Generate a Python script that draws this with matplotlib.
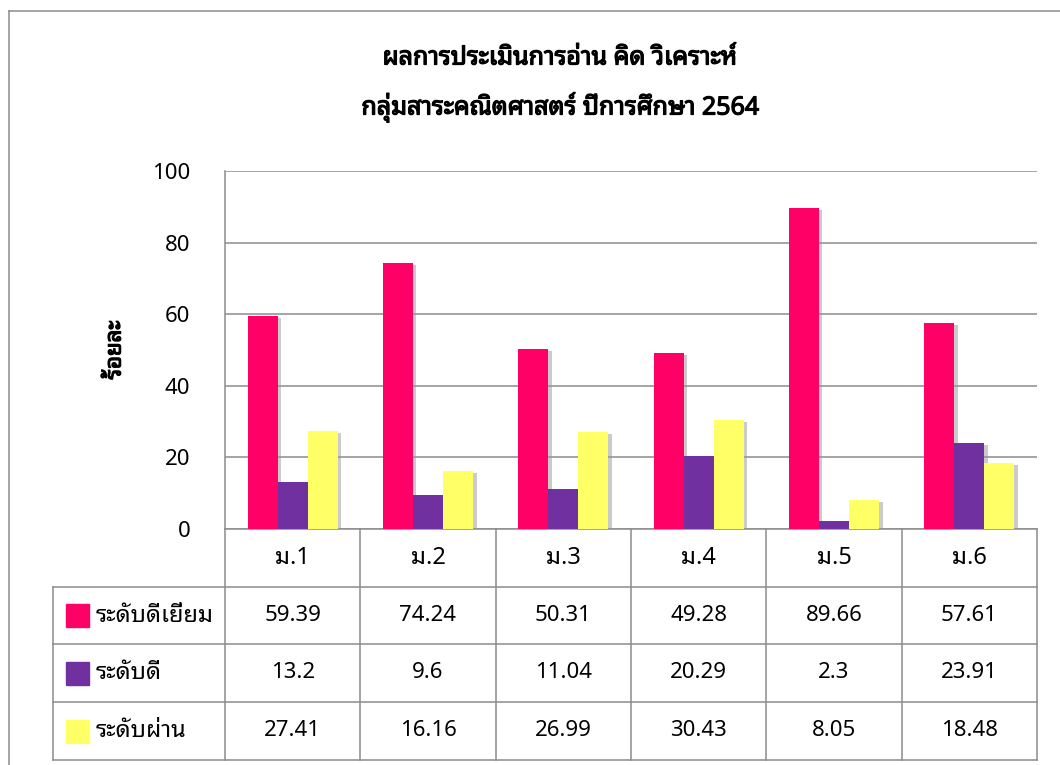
import matplotlib
matplotlib.use("Agg")
import matplotlib.pyplot as plt
import matplotlib.patheffects as pe
from matplotlib.lines import Line2D
from matplotlib.patches import Rectangle
import matplotlib.transforms as mtransforms
import numpy as np

plt.rcParams['font.family'] = ['Noto Sans Thai Looped', 'Loma', 'DejaVu Sans']

# data
classes = ['ม.1', 'ม.2', 'ม.3', 'ม.4', 'ม.5', 'ม.6']
series_names = ['ระดับดีเยี่ยม', 'ระดับดี', 'ระดับผ่าน']
excellent = [59.39, 74.24, 50.31, 49.28, 89.66, 57.61]
good = [13.2, 9.6, 11.04, 20.29, 2.3, 23.91]
passed = [27.41, 16.16, 26.99, 30.43, 8.05, 18.48]
colors = ['#FF0066', '#7030A0', '#FFFF66']
title = 'ผลการประเมินการอ่าน คิด วิเคราะห์\nกลุ่มสาระคณิตศาสตร์ ปีการศึกษา 2564'
ylabel = 'ร้อยละ'

W, H = 1060, 765
fig = plt.figure(figsize=(W / 100, H / 100), dpi=100)

# font has no bold face installed, so thicken with a stroke
bold = [pe.withStroke(linewidth=0.9, foreground='black')]

# plot area in pixels: left 225, right 1037, top 171, bottom 529
ax = fig.add_axes([225 / W, 1 - 529 / H, 812 / W, 358 / H])

x = np.arange(len(classes))
bw = 1 / 4.5  # gap width 50%
shadow = [pe.SimplePatchShadow(offset=(2.5, -1.5), shadow_rgbFace='#999999', alpha=0.5), pe.Normal()]
for i, (vals, c) in enumerate(zip([excellent, good, passed], colors)):
    bars = ax.bar(x + (i - 1) * bw, vals, bw, color=c, zorder=3)
    for b in bars:
        b.set_path_effects(shadow)

ax.set_xlim(-0.5, len(classes) - 0.5)
ax.set_ylim(0, 100)
ax.set_yticks(range(0, 101, 20))
ax.yaxis.grid(True, color='#8C8C8C', lw=1.1)
ax.set_axisbelow(True)
ax.tick_params(axis='y', length=0, pad=25, labelsize=16)
ax.tick_params(axis='x', length=0, labelbottom=False)
for s in ['top', 'right', 'bottom']:
    ax.spines[s].set_visible(False)
ax.spines['left'].set_color('#8C8C8C')
ax.spines['left'].set_linewidth(1.1)

ax.set_ylabel(ylabel, fontsize=16, labelpad=19, path_effects=bold)

fig.text(560 / W, 1 - 84 / H, title, ha='center', va='center', fontsize=18,
         linespacing=2.0, path_effects=bold)

# data table below the plot
tr = mtransforms.blended_transform_factory(ax.transData, ax.transAxes)
def yfrac(py):
    return (529 - py) / 358

row_y = [yfrac(p) for p in [529, 587, 644, 702, 760]]
px = len(classes) / 812  # data units per pixel along x
leg_left = -0.5 + (53 - 225) * px
lc = '#8C8C8C'
kw = dict(transform=tr, color=lc, lw=1.1, clip_on=False)

# horizontal lines
ax.add_line(Line2D([-0.5, 5.5], [row_y[0]] * 2, **kw))
for yy in row_y[1:]:
    ax.add_line(Line2D([leg_left, 5.5], [yy] * 2, **kw))
# vertical lines
for xx in np.arange(-0.5, len(classes), 1.0):
    ax.add_line(Line2D([xx, xx], [row_y[0], row_y[-1]], **kw))
ax.add_line(Line2D([leg_left, leg_left], [row_y[1], row_y[-1]], **kw))

for j, name in enumerate(classes):
    ax.text(j, (row_y[0] + row_y[1]) / 2, name, transform=tr, ha='center',
            va='center', fontsize=17)

for r, (name, vals, c) in enumerate(zip(series_names, [excellent, good, passed], colors)):
    yc = (row_y[r + 1] + row_y[r + 2]) / 2
    for j, v in enumerate(vals):
        ax.text(j, yc, f'{v:g}', transform=tr, ha='center', va='center', fontsize=16)
    # legend key
    ax.add_patch(Rectangle((leg_left + 13 * px, yc - 11.5 / 358), 23 * px, 23 / 358,
                           color=c, transform=tr, clip_on=False))
    ax.text(leg_left + 43 * px, yc, name, transform=tr,
            ha='left', va='center', fontsize=17)

# outer chart frame (cut off at right and bottom)
fig.add_artist(Line2D([9 / W, 9 / W], [1 - 11 / H, 0], transform=fig.transFigure, color='#8C8C8C', lw=1.1))
fig.add_artist(Line2D([9 / W, 1], [1 - 11 / H, 1 - 11 / H], transform=fig.transFigure, color='#8C8C8C', lw=1.1))

fig.savefig('out.png', dpi=100)
